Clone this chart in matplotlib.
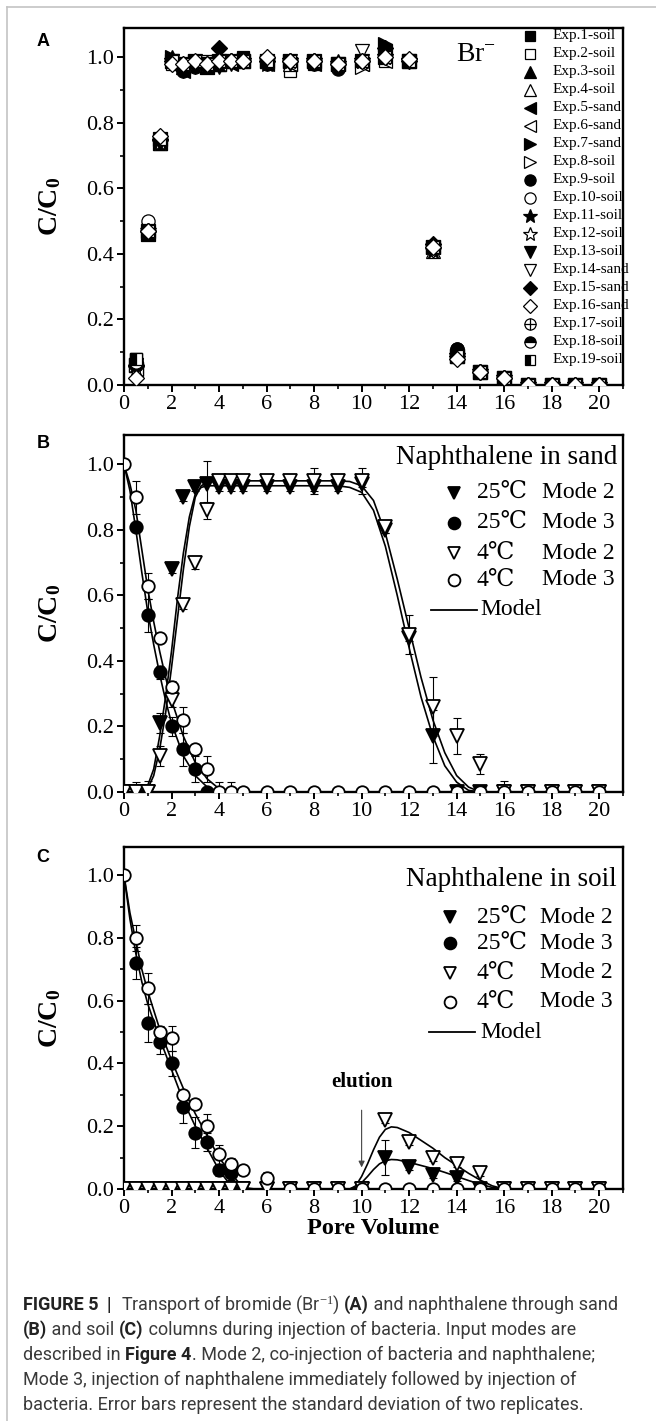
import matplotlib
matplotlib.use('Agg')
import matplotlib.pyplot as plt
from matplotlib.lines import Line2D
from matplotlib.ticker import MultipleLocator, FormatStrFormatter

plt.rcParams['mathtext.fontset'] = 'custom'
plt.rcParams['mathtext.rm'] = 'Liberation Serif'
plt.rcParams['mathtext.bf'] = 'Liberation Serif:bold'
plt.rcParams['mathtext.it'] = 'Liberation Serif:italic'

SERIF = ['Liberation Serif', 'DejaVu Serif', 'DejaVu Sans']
SANS = ['Liberation Sans', 'DejaVu Sans']
CAP = ['Roboto', 'DejaVu Sans']

# ---------------- data: panel A (bromide) ----------------
pv_A = [0.5, 1, 1.5, 2, 2.5, 3, 3.5, 4, 4.5, 5, 6, 7, 8, 9, 10, 11, 12, 13, 14, 15, 16, 17, 18, 19, 20]
exp_labels = ['Exp.1-soil', 'Exp.2-soil', 'Exp.3-soil', 'Exp.4-soil', 'Exp.5-sand', 'Exp.6-sand',
              'Exp.7-sand', 'Exp.8-soil', 'Exp.9-soil', 'Exp.10-soil', 'Exp.11-soil', 'Exp.12-soil',
              'Exp.13-soil', 'Exp.14-sand', 'Exp.15-sand', 'Exp.16-sand', 'Exp.17-soil', 'Exp.18-soil',
              'Exp.19-soil']
exp1 = [0.08, 0.46, 0.74, 0.99, 0.97, 0.98, 0.98, 0.98, 0.99, 1.00, 0.99, 0.98, 0.98, 0.98, 0.99, 1.00, 0.99, 0.42, 0.10, 0.04, 0.02, 0.00, 0.00, 0.00, 0.00]
exp2 = [0.08, 0.48, 0.75, 0.98, 0.98, 0.99, 0.99, 0.98, 0.99, 0.99, 0.99, 0.96, 0.99, 0.98, 0.99, 0.99, 0.99, 0.42, 0.09, 0.04, 0.02, 0.00, 0.00, 0.00, 0.00]
exp3 = [0.06, 0.46, 0.74, 1.00, 0.97, 0.98, 0.97, 0.98, 0.99, 0.99, 0.99, 0.99, 0.99, 0.99, 0.99, 1.01, 0.99, 0.43, 0.09, 0.04, 0.02, 0.00, 0.00, 0.00, 0.00]
exp4 = [0.06, 0.47, 0.74, 0.99, 0.98, 0.99, 0.98, 0.98, 0.99, 0.99, 0.99, 0.98, 0.99, 0.98, 0.99, 1.00, 0.99, 0.41, 0.09, 0.04, 0.02, 0.00, 0.00, 0.00, 0.00]
exp5 = [0.05, 0.46, 0.74, 0.98, 0.96, 0.98, 0.97, 0.98, 0.98, 0.99, 0.98, 0.98, 0.98, 0.98, 0.98, 1.02, 0.99, 0.42, 0.09, 0.04, 0.02, 0.00, 0.00, 0.00, 0.00]
exp6 = [0.05, 0.47, 0.75, 0.98, 0.97, 0.98, 0.98, 0.98, 0.99, 0.99, 0.99, 0.98, 0.99, 0.98, 0.98, 0.99, 0.99, 0.42, 0.09, 0.04, 0.02, 0.00, 0.00, 0.00, 0.00]
exp7 = [0.06, 0.46, 0.74, 1.00, 0.98, 0.99, 0.97, 0.99, 0.99, 0.99, 0.99, 0.99, 0.99, 0.98, 0.99, 1.04, 0.99, 0.42, 0.09, 0.04, 0.02, 0.00, 0.00, 0.00, 0.00]
exp8 = [0.06, 0.47, 0.75, 0.99, 0.98, 0.99, 0.98, 0.99, 0.99, 0.99, 0.99, 0.99, 0.99, 0.98, 0.97, 1.00, 0.99, 0.42, 0.09, 0.04, 0.02, 0.00, 0.00, 0.00, 0.00]
exp9 = [0.06, 0.47, 0.74, 0.99, 0.96, 0.97, 0.97, 0.98, 0.99, 0.99, 0.98, 0.99, 0.98, 0.965, 0.99, 1.00, 0.99, 0.42, 0.11, 0.04, 0.02, 0.00, 0.00, 0.00, 0.00]
exp10 = [0.06, 0.50, 0.75, 0.99, 0.98, 0.99, 0.98, 0.99, 0.99, 0.99, 0.99, 0.99, 0.99, 0.98, 0.99, 1.00, 0.99, 0.42, 0.09, 0.04, 0.02, 0.00, 0.00, 0.00, 0.00]
exp11 = [0.05, 0.46, 0.74, 0.99, 0.97, 0.98, 0.97, 0.98, 0.99, 0.99, 0.98, 0.99, 0.99, 0.98, 0.99, 1.00, 0.99, 0.41, 0.09, 0.04, 0.02, 0.00, 0.00, 0.00, 0.00]
exp12 = [0.05, 0.47, 0.74, 0.99, 0.98, 0.98, 0.98, 0.99, 0.99, 0.99, 0.99, 0.99, 0.99, 0.98, 0.99, 1.00, 0.99, 0.42, 0.09, 0.04, 0.02, 0.00, 0.00, 0.00, 0.00]
exp13 = [0.06, 0.46, 0.74, 0.99, 0.96, 0.97, 0.97, 0.97, 0.98, 0.99, 0.98, 0.98, 0.98, 0.98, 0.99, 1.01, 0.99, 0.42, 0.09, 0.04, 0.02, 0.00, 0.00, 0.00, 0.00]
exp14 = [0.06, 0.47, 0.75, 0.99, 0.98, 0.99, 0.98, 0.99, 0.99, 0.99, 0.99, 0.99, 0.99, 0.98, 1.02, 1.00, 0.99, 0.41, 0.09, 0.04, 0.02, 0.00, 0.00, 0.00, 0.00]
exp15 = [0.06, 0.47, 0.75, 0.99, 0.97, 0.98, 0.98, 1.03, 0.99, 0.99, 0.99, 0.99, 0.99, 0.98, 0.99, 1.03, 0.99, 0.43, 0.09, 0.04, 0.02, 0.00, 0.00, 0.00, 0.00]
exp16 = [0.02, 0.47, 0.76, 0.98, 0.98, 0.99, 0.98, 0.99, 0.99, 0.99, 1.00, 0.99, 0.99, 0.98, 0.99, 1.00, 0.995, 0.42, 0.08, 0.04, 0.02, 0.00, 0.00, 0.00, 0.00]
exp17 = [0.07, 0.47, 0.75, 0.99, 0.98, 0.99, 0.98, 0.99, 0.99, 0.99, 0.99, 0.99, 0.99, 0.98, 0.99, 1.00, 0.99, 0.42, 0.09, 0.04, 0.02, 0.00, 0.00, 0.00, 0.00]
exp18 = [0.07, 0.47, 0.75, 0.99, 0.98, 0.99, 0.98, 0.99, 0.99, 0.99, 0.99, 0.99, 0.99, 0.98, 0.99, 1.00, 0.99, 0.42, 0.11, 0.04, 0.02, 0.00, 0.00, 0.00, 0.00]
exp19 = [0.08, 0.47, 0.75, 0.99, 0.98, 0.99, 0.98, 0.99, 0.99, 0.99, 0.99, 0.99, 0.99, 0.98, 0.99, 1.00, 0.99, 0.42, 0.09, 0.04, 0.02, 0.00, 0.00, 0.00, 0.00]
exp_values = [exp1, exp2, exp3, exp4, exp5, exp6, exp7, exp8, exp9, exp10, exp11, exp12,
              exp13, exp14, exp15, exp16, exp17, exp18, exp19]

# ---------------- data: panel B (naphthalene in sand) ----------------
pvB_m2 = [0, 0.5, 1.0, 1.5, 2.0, 2.5, 3.0, 3.5, 4.0, 4.5, 5, 6, 7, 8, 9, 10, 11, 12, 13, 14, 15, 16, 17, 18, 19, 20]
B_25_m2 = [0, 0, 0, 0.21, 0.68, 0.90, 0.93, 0.94, 0.93, 0.93, 0.93, 0.93, 0.93, 0.93, 0.93, 0.94, 0.80, 0.47, 0.17, 0, 0, 0, 0, 0, 0, 0]
B_25_m2_err = [0.005, 0.005, 0.005, 0.03, 0.01, 0.01, 0.01, 0.07, 0.01, 0.01, 0.01, 0.01, 0.01, 0.01, 0.01, 0.01, 0.01, 0.01, 0.08, 0.005, 0.005, 0.005, 0, 0, 0, 0]
B_4_m2 = [0, 0, 0, 0.11, 0.28, 0.57, 0.70, 0.86, 0.95, 0.95, 0.95, 0.95, 0.95, 0.95, 0.95, 0.95, 0.81, 0.48, 0.26, 0.17, 0.085, 0, 0, 0, 0, 0]
B_4_m2_err = [0.005, 0.03, 0.035, 0.03, 0.02, 0.01, 0.02, 0.025, 0.01, 0.01, 0.01, 0.01, 0.01, 0.04, 0.01, 0.04, 0.02, 0.06, 0.09, 0.055, 0.03, 0.035, 0, 0, 0, 0]
pvB_m3_25 = [0.5, 1.0, 1.5, 2.0, 2.5, 3.0, 3.5]
B_25_m3 = [0.81, 0.54, 0.365, 0.20, 0.13, 0.07, 0.0]
B_25_m3_err = [0.01, 0.05, 0.02, 0.03, 0.05, 0.04, 0.01]
pvB_m3_4 = [0, 0.5, 1.0, 1.5, 2.0, 2.5, 3.0, 3.5, 4.0, 4.5, 5, 6, 7, 8, 9, 10, 11, 12, 13, 14, 15, 16, 17, 18, 19, 20]
B_4_m3 = [1.0, 0.90, 0.63, 0.47, 0.32, 0.22, 0.13, 0.07, 0, 0, 0, 0, 0, 0, 0, 0, 0, 0, 0, 0, 0, 0, 0, 0, 0, 0]
B_4_m3_err = [0, 0.05, 0.04, 0.01, 0.02, 0.04, 0.01, 0.04, 0.03, 0.03, 0.01, 0, 0, 0, 0, 0, 0, 0, 0, 0, 0, 0, 0, 0, 0, 0]
# model curves (sand)
mB_pv_m2 = [0, 0.5, 0.8, 1.0, 1.25, 1.5, 1.75, 2.0, 2.25, 2.5, 2.75, 3.0, 3.25, 3.5, 4, 6, 8, 9, 9.5, 10, 10.5, 11, 11.5, 12, 12.5, 13, 13.5, 14, 14.5, 15, 17, 20]
mB_25_m2 = [0, 0, 0.005, 0.02, 0.07, 0.17, 0.29, 0.43, 0.59, 0.73, 0.84, 0.91, 0.93, 0.935, 0.935, 0.935, 0.935, 0.935, 0.93, 0.915, 0.86, 0.75, 0.60, 0.44, 0.29, 0.17, 0.08, 0.03, 0.005, 0, 0, 0]
mB_4_m2 = [0, 0, 0.003, 0.01, 0.05, 0.13, 0.24, 0.38, 0.53, 0.68, 0.81, 0.90, 0.935, 0.945, 0.95, 0.95, 0.95, 0.95, 0.948, 0.935, 0.89, 0.79, 0.65, 0.50, 0.35, 0.22, 0.12, 0.05, 0.015, 0, 0, 0]
mB_pv_m3 = [0, 0.25, 0.5, 0.75, 1.0, 1.25, 1.5, 1.75, 2.0, 2.5, 3.0, 3.5, 4.0, 4.5, 5, 20]
mB_25_m3 = [1.0, 0.92, 0.80, 0.67, 0.55, 0.45, 0.36, 0.28, 0.21, 0.11, 0.05, 0.015, 0.0, 0, 0, 0]
mB_4_m3 = [1.0, 0.94, 0.86, 0.74, 0.62, 0.52, 0.43, 0.35, 0.28, 0.17, 0.09, 0.04, 0.01, 0.0, 0, 0]

# ---------------- data: panel C (naphthalene in soil) ----------------
pvC_m2 = [0, 0.5, 1.0, 1.5, 2.0, 2.5, 3.0, 3.5, 4.0, 4.5, 5, 6, 7, 8, 9, 10, 11, 12, 13, 14, 15, 16, 17, 18, 19, 20]
C_25_m2 = [0, 0, 0, 0, 0, 0, 0, 0, 0, 0, 0, 0, 0, 0, 0, 0, 0.10, 0.07, 0.045, 0.035, 0, 0, 0, 0, 0, 0]
C_25_m2_err = [0.01, 0.01, 0.01, 0.01, 0.01, 0.01, 0.01, 0.01, 0.01, 0.01, 0.01, 0.005, 0.005, 0.005, 0.005, 0.005, 0.055, 0.01, 0.01, 0.01, 0.005, 0, 0, 0, 0, 0]
C_4_m2 = [0, 0, 0, 0, 0, 0, 0, 0, 0, 0, 0, 0, 0, 0, 0, 0, 0.22, 0.15, 0.10, 0.08, 0.05, 0, 0, 0, 0, 0]
C_4_m2_err = [0.01, 0.01, 0.01, 0.01, 0.01, 0.01, 0.01, 0.01, 0.01, 0.01, 0.01, 0.005, 0.005, 0.005, 0.005, 0.005, 0.01, 0.01, 0.01, 0.01, 0.01, 0, 0, 0, 0, 0]
pvC_m3_25 = [0.5, 1.0, 1.5, 2.0, 2.5, 3.0, 3.5, 4.0, 4.5]
C_25_m3 = [0.72, 0.53, 0.47, 0.40, 0.26, 0.18, 0.15, 0.06, 0.05]
C_25_m3_err = [0.05, 0.06, 0.04, 0.04, 0.05, 0.05, 0.03, 0.02, 0.02]
pvC_m3_4 = [0, 0.5, 1.0, 1.5, 2.0, 2.5, 3.0, 3.5, 4.0, 4.5, 5, 6, 7, 8, 9, 10, 11, 12, 13, 14, 15, 16, 17, 18, 19, 20]
C_4_m3 = [1.0, 0.80, 0.64, 0.50, 0.48, 0.30, 0.27, 0.20, 0.11, 0.08, 0.06, 0.035, 0, 0, 0, 0, 0, 0, 0, 0, 0, 0, 0, 0, 0, 0]
C_4_m3_err = [0, 0.04, 0.05, 0.02, 0.04, 0.01, 0.01, 0.04, 0.03, 0.02, 0.01, 0.02, 0.005, 0, 0, 0, 0, 0, 0, 0, 0, 0, 0, 0, 0, 0]
# model curves (soil)
mC_pv_m3 = [0, 0.25, 0.5, 0.75, 1.0, 1.5, 2.0, 2.5, 3.0, 3.5, 4.0, 4.5, 5.0, 5.5, 6, 20]
mC_25_m3 = [1.0, 0.86, 0.75, 0.66, 0.59, 0.48, 0.38, 0.28, 0.20, 0.13, 0.06, 0.01, 0.0, 0, 0, 0]
mC_4_m3 = [1.0, 0.88, 0.79, 0.70, 0.63, 0.51, 0.41, 0.32, 0.24, 0.17, 0.10, 0.05, 0.005, 0.0, 0, 0]
mC_pv_m2 = [0, 9.5, 9.75, 10, 10.25, 10.5, 10.75, 11, 11.25, 11.5, 12, 12.5, 13, 13.5, 14, 14.5, 15, 15.5, 16, 20]
mC_4_m2 = [0, 0, 0.01, 0.04, 0.08, 0.125, 0.165, 0.19, 0.198, 0.196, 0.18, 0.155, 0.13, 0.10, 0.075, 0.05, 0.028, 0.01, 0.0, 0]
mC_25_m2 = [0, 0, 0.005, 0.02, 0.04, 0.062, 0.08, 0.09, 0.094, 0.093, 0.085, 0.075, 0.065, 0.053, 0.04, 0.027, 0.015, 0.005, 0.0, 0]
elution_pv = 10
elution_from, elution_to = 0.26, 0.06

legend_rows = [('25℃', 'Mode 2'), ('25℃', 'Mode 3'), ('4℃', 'Mode 2'), ('4℃', 'Mode 3')]

# ---------------- styles ----------------
W, H = 656, 1421
fig = plt.figure(figsize=(W / 100, H / 100), dpi=100)

def box(l, r, t, b):
    return [l / W, 1 - b / H, (r - l) / W, (b - t) / H]

axA = fig.add_axes(box(124, 623, 28, 385))
axB = fig.add_axes(box(124, 623, 435, 792))
axC = fig.add_axes(box(124, 623, 847, 1189))

def style_axis(ax, show_xlabel=False):
    ax.set_xlim(0, 21)
    ax.set_ylim(0, 1.09)
    ax.xaxis.set_major_locator(MultipleLocator(2))
    ax.xaxis.set_minor_locator(MultipleLocator(1))
    ax.yaxis.set_major_locator(MultipleLocator(0.2))
    ax.yaxis.set_minor_locator(MultipleLocator(0.1))
    ax.yaxis.set_major_formatter(FormatStrFormatter('%.1f'))
    for s in ax.spines.values():
        s.set_linewidth(1.7)
    ax.tick_params(which='both', direction='out', top=False, right=False)
    ax.tick_params(which='major', length=5, width=1.4, labelsize=16, pad=2)
    ax.tick_params(which='minor', length=3, width=1.2)
    for lab in ax.get_xticklabels() + ax.get_yticklabels():
        lab.set_family(SERIF)
    ax.set_ylabel(r'C/C$_\mathbf{0}$', fontsize=20, fontweight='bold', family=SERIF)
    ax.yaxis.set_label_coords(-0.122, 0.5)
    if show_xlabel:
        ax.set_xlabel('Pore Volume', fontsize=17.5, fontweight='bold', family=SERIF, labelpad=0)

for ax in (axA, axB, axC):
    style_axis(ax, ax is axC)

# ---------------- Panel A ----------------
exp_styles = [
    dict(marker='s', ms=8.5, mfc='k'), dict(marker='s', ms=8.5, mfc='w'),
    dict(marker='^', ms=10, mfc='k'), dict(marker='^', ms=10, mfc='w'),
    dict(marker='<', ms=10, mfc='k'), dict(marker='<', ms=10, mfc='w'),
    dict(marker='>', ms=10, mfc='k'), dict(marker='>', ms=10, mfc='w'),
    dict(marker='o', ms=9.5, mfc='k'), dict(marker='o', ms=9.5, mfc='w'),
    dict(marker='*', ms=12, mfc='k'), dict(marker='*', ms=12, mfc='w'),
    dict(marker='v', ms=10, mfc='k'), dict(marker='v', ms=10, mfc='w'),
    dict(marker='D', ms=8, mfc='k'), dict(marker='D', ms=8, mfc='w'),
    dict(marker='o', ms=9.5, mfc='w'),
    dict(marker='o', ms=9.5, mfc='k', fillstyle='top', markerfacecoloralt='w'),
    dict(marker='s', ms=8.5, mfc='k', fillstyle='left', markerfacecoloralt='w'),
]
order = list(range(15)) + [16, 17, 18, 15]
for i in order:
    st = exp_styles[i]
    axA.plot(pv_A, exp_values[i], linestyle='none', mec='k', mew=0.9, zorder=3 + (i == 15), **st)
    if i == 16:
        axA.plot(pv_A, exp_values[i], linestyle='none', marker='+', ms=9.5, mec='k', mew=0.9, zorder=3)

# legend A (manual)
y0 = 0.978
dy = 0.0504
for k, lab in enumerate(exp_labels):
    y = y0 - k * dy
    st = dict(exp_styles[k])
    st['ms'] = st['ms'] * 0.85
    axA.plot([0.814], [y], transform=axA.transAxes, linestyle='none', mec='k', mew=0.9,
             clip_on=False, **st)
    if k == 16:
        axA.plot([0.814], [y], transform=axA.transAxes, linestyle='none', marker='+', ms=8,
                 mec='k', mew=0.9, clip_on=False)
    axA.text(0.858, y, lab, transform=axA.transAxes, fontsize=11, family=SERIF,
             va='center', ha='left')
axA.text(0.665, 0.925, r'Br$^{-}$', transform=axA.transAxes, fontsize=20, family=SERIF,
         va='center', ha='left')

# ---------------- helper for B / C ----------------
def naph_panel(ax, series, models, title, ty, rows_y, mx, tx, modex, model_y, mlx0, mlx1, mtx):
    for pv, vals in models:
        ax.plot(pv, vals, color='k', lw=1.2, zorder=2)
    for pv, vals, err, mk, fc, ms in series:
        ax.errorbar(pv, vals, yerr=err, fmt='none', ecolor='k', elinewidth=0.8,
                    capsize=3, capthick=0.8, zorder=2.5)
        ax.plot(pv, vals, linestyle='none', marker=mk, ms=ms, mfc=fc, mec='k', mew=1.3, zorder=3)
    ax.text(0.988, ty, title, transform=ax.transAxes, fontsize=19.5, family=SERIF,
            ha='right', va='center')
    for (temp, mode), y, (pv, vals, err, mk, fc, ms) in zip(legend_rows, rows_y, series):
        ax.plot([mx], [y], transform=ax.transAxes, linestyle='none', marker=mk, ms=ms - 0.5,
                mfc=fc, mec='k', mew=1.3, clip_on=False)
        ax.text(tx, y, temp, transform=ax.transAxes, fontsize=17, family=SERIF,
                ha='left', va='center')
        ax.text(modex, y, mode, transform=ax.transAxes, fontsize=17, family=SERIF,
                ha='left', va='center')
    ax.plot([mlx0, mlx1], [model_y, model_y], transform=ax.transAxes, color='k', lw=1.3)
    ax.text(mtx, model_y, 'Model', transform=ax.transAxes, fontsize=17, family=SERIF,
            ha='left', va='center')

seriesB = [
    (pvB_m2, B_25_m2, B_25_m2_err, 'v', 'k', 9.5),
    (pvB_m3_25, B_25_m3, B_25_m3_err, 'o', 'k', 9),
    (pvB_m2, B_4_m2, B_4_m2_err, 'v', 'w', 9.5),
    (pvB_m3_4, B_4_m3, B_4_m3_err, 'o', 'w', 9),
]
modelsB = [(mB_pv_m2, mB_25_m2), (mB_pv_m2, mB_4_m2), (mB_pv_m3, mB_25_m3), (mB_pv_m3, mB_4_m3)]
naph_panel(axB, seriesB, modelsB, 'Naphthalene in sand', 0.938,
           [0.838, 0.754, 0.669, 0.594], 0.661, 0.707, 0.838, 0.510, 0.615, 0.707, 0.715)

seriesC = [
    (pvC_m2, C_25_m2, C_25_m2_err, 'v', 'k', 9.5),
    (pvC_m3_25, C_25_m3, C_25_m3_err, 'o', 'k', 9),
    (pvC_m2, C_4_m2, C_4_m2_err, 'v', 'w', 9.5),
    (pvC_m3_4, C_4_m3, C_4_m3_err, 'o', 'w', 9),
]
modelsC = [(mC_pv_m3, mC_25_m3), (mC_pv_m3, mC_4_m3), (mC_pv_m2, mC_25_m2), (mC_pv_m2, mC_4_m2)]
naph_panel(axC, seriesC, modelsC, 'Naphthalene in soil', 0.904,
           [0.795, 0.719, 0.632, 0.547], 0.653, 0.707, 0.834, 0.459, 0.611, 0.703, 0.715)

axC.annotate('', xy=(elution_pv, elution_to), xytext=(elution_pv, elution_from),
             arrowprops=dict(arrowstyle='-|>', color='#444444', lw=0.8, mutation_scale=9))
axC.text(elution_pv, elution_from + 0.08, 'elution', fontsize=15, fontweight='bold',
         family=SERIF, ha='center', va='center')

# panel letters
for lab, ypx in (('A', 42), ('B', 443), ('C', 858)):
    fig.text(43 / W, 1 - ypx / H, lab, fontsize=13, fontweight='bold', family=SANS,
             ha='center', va='center')

# frame lines
fig.add_artist(Line2D([7 / W, 7 / W], [0, 1 - 7 / H], color='#c4c4c4', lw=1.2))
fig.add_artist(Line2D([7 / W, 1], [1 - 7 / H, 1 - 7 / H], color='#c4c4c4', lw=1.2))

# ---------------- caption ----------------
renderer = fig.canvas.get_renderer()
CAP_SIZE = 13.0

def seg_width(txt, bold):
    t1 = fig.text(0, 0, txt + '.', fontsize=CAP_SIZE, family=CAP,
                  fontweight='bold' if bold else 'normal')
    t2 = fig.text(0, 0, '.', fontsize=CAP_SIZE, family=CAP,
                  fontweight='bold' if bold else 'normal')
    w = t1.get_window_extent(renderer).width - t2.get_window_extent(renderer).width
    t1.remove()
    t2.remove()
    return w

caption_lines = [
    [('FIGURE 5', True), ('  |  ', True), (r'Transport of bromide (Br$^{-1}$) ', False), ('(A)', True),
     (' and naphthalene through sand', False)],
    [('(B)', True), (' and soil ', False), ('(C)', True), (' columns during injection of bacteria. Input modes are', False)],
    [('described in ', False), ('Figure 4', True), ('. Mode 2, co-injection of bacteria and naphthalene;', False)],
    [('Mode 3, injection of naphthalene immediately followed by injection of', False)],
    [('bacteria. Error bars represent the standard deviation of two replicates.', False)],
]
for li, segs in enumerate(caption_lines):
    ypx = 1305 + 25 * li
    x = 23.0
    for txt, bold in segs:
        fig.text(x / W, 1 - ypx / H, txt, fontsize=CAP_SIZE, family=CAP,
                 fontweight='bold' if bold else 'normal',
                 color='#222222' if bold else '#3a3a3a', ha='left', va='center')
        x += seg_width(txt, bold)

fig.savefig('out.png', dpi=100)
